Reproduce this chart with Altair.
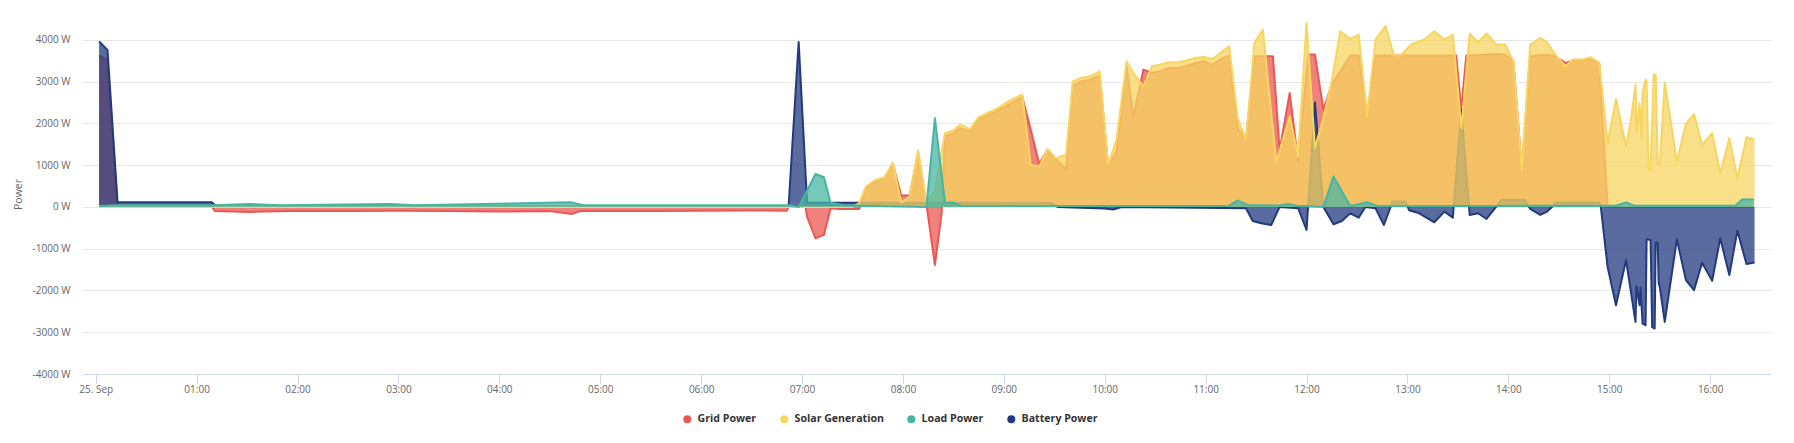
import altair as alt
import pandas as pd

series_names = ["Grid Power", "Solar Generation", "Load Power", "Battery Power"]
series_colors = ["#eb5851", "#f7d560", "#48b5a3", "#233a7f"]

grid_times = ["00:02", "00:07", "00:13", "01:09", "01:11", "01:32", "02:00", "02:30", "03:00", "03:30",
              "04:00", "04:30", "04:43", "04:48", "05:30", "06:00", "06:30", "06:51", "06:52", "07:02",
              "07:03", "07:08", "07:13", "07:17", "07:22", "07:34", "07:38", "07:43", "07:49", "07:54",
              "07:59", "08:04", "08:09", "08:14", "08:19", "08:23", "08:25", "08:30", "08:34", "08:40",
              "08:45", "08:50", "08:55", "09:01", "09:05", "09:11", "09:16", "09:21", "09:26", "09:31",
              "09:37", "09:41", "09:46", "09:51", "09:57", "10:02", "10:07", "10:13", "10:17", "10:23",
              "10:28", "10:33", "10:38", "10:44", "10:49", "10:54", "10:59", "11:04", "11:10", "11:14",
              "11:19", "11:24", "11:29", "11:34", "11:40", "11:44", "11:50", "11:55", "12:01", "12:05",
              "12:10", "12:15", "12:20", "12:26", "12:31", "12:36", "12:41", "13:00", "13:29", "13:32",
              "13:35", "13:54", "13:58", "14:03", "14:08", "14:13", "14:19", "14:24", "14:28", "14:34",
              "14:38", "14:49", "14:54", "14:59", "16:26"]
grid_values = [3620, 3520, 0, 0, -100, -120, -90, -100, -90, -100,
               -110, -100, -170, -100, -100, -90, -85, -90, 0, 0,
               -230, -750, -670, -30, -50, -50, 450, 600, 690, 1030,
               272, 272, 1288, 60, -1390, -150, 1700, 1760, 1888, 1808,
               2088, 2184, 2288, 2408, 2504, 2632, 1848, 1032, 1368, 1144,
               904, 2904, 3008, 3048, 3144, 968, 1328, 3368, 2168, 3288,
               3208, 3248, 3328, 3328, 3384, 3448, 3488, 3408, 3568, 3624,
               1888, 1608, 3608, 3608, 3608, 1368, 2728, 1088, 3648, 3648,
               2328, 2928, 3248, 3624, 3624, 2168, 3624, 3624, 3624, 2328,
               3624, 3660, 3650, 3488, 888, 3608, 3640, 3640, 3600, 3448,
               3500, 3520, 3448, 10, 10]

solar_times = ["00:02", "07:30", "07:34", "07:38", "07:43", "07:49", "07:54", "07:59", "08:04", "08:09",
               "08:14", "08:19", "08:25", "08:30", "08:34", "08:40", "08:45", "08:50", "08:55", "09:01",
               "09:05", "09:11", "09:16", "09:21", "09:26", "09:31", "09:37", "09:41", "09:46", "09:51",
               "09:57", "10:02", "10:07", "10:13", "10:17", "10:23", "10:28", "10:33", "10:38", "10:44",
               "10:49", "10:54", "10:59", "11:04", "11:10", "11:14", "11:19", "11:24", "11:29", "11:34",
               "11:42", "11:50", "11:55", "12:00", "12:05", "12:10", "12:15", "12:20", "12:26", "12:31",
               "12:36", "12:41", "12:47", "12:52", "12:56", "13:02", "13:10", "13:16", "13:22", "13:27",
               "13:32", "13:37", "13:42", "13:47", "13:53", "13:58", "14:03", "14:08", "14:13", "14:19",
               "14:23", "14:28", "14:34", "14:38", "14:44", "14:49", "14:54", "14:59", "15:04", "15:10",
               "15:13:12", "15:15:36", "15:16:12", "15:18:00", "15:19:12", "15:19:48", "15:21:36", "15:22:12",
               "15:23:24", "15:24:36", "15:26:24", "15:27:36", "15:28:48", "15:30:00", "15:33:00", "15:40:12",
               "15:45:36", "15:50:24", "15:55:12", "16:01:12", "16:06:00", "16:11:24", "16:16:12", "16:21:36",
               "16:26:24"]
solar_values = [0, 0, 90, 488, 632, 712, 1064, 104, 248, 1352,
                128, 392, 1768, 1832, 1968, 1864, 2152, 2248, 2328, 2488,
                2584, 2688, 1008, 968, 1384, 1168, 1248, 3008, 3088, 3128,
                3248, 1008, 1608, 3488, 3208, 2888, 3368, 3408, 3464, 3464,
                3512, 3568, 3592, 3544, 3728, 3848, 2128, 1608, 3928, 4248,
                1080, 2168, 1208, 4408, 1408, 2128, 3008, 4208, 4024, 4128,
                2168, 4008, 4328, 3624, 3624, 3888, 4008, 4208, 4008, 4128,
                1888, 4152, 3944, 4152, 3888, 3888, 3488, 888, 3888, 4040,
                3944, 3648, 3368, 3528, 3528, 3584, 3464, 1528, 2584, 1448,
                2168, 2928, 1768, 2488, 1648, 2728, 3048, 3008,
                888, 888, 3168, 3168, 1048, 1008, 2984, 1088,
                1992, 2224, 1488, 1768, 808, 1648, 688, 1672,
                1608]

load_times = ["00:02", "00:13", "01:09", "01:32", "01:50", "02:55", "03:10", "04:43", "04:50", "06:00",
              "06:52", "06:58", "07:08", "07:13", "07:17", "07:25", "08:14", "08:19", "08:25", "08:30",
              "08:35", "09:30", "11:14", "11:19", "11:25", "11:44", "11:49", "11:54", "12:10", "12:16",
              "12:26", "12:36", "12:42", "13:50", "15:04", "15:10", "15:15", "16:15", "16:19", "16:26"]
load_values = [20, 40, 40, 70, 40, 70, 40, 110, 40, 40,
               40, 0, 790, 710, 100, 40, 0, 2125, 104, 100,
               30, 20, 30, 152, 48, 32, 72, 30, 0, 730,
               20, 112, 25, 25, 30, 110, 30, 30, 180, 180]

battery_times = ["00:02", "00:07", "00:13", "01:09", "01:12", "06:52", "06:58", "07:03", "09:28", "09:32",
                 "10:00", "10:05", "10:10", "11:24", "11:28", "11:33", "11:39", "11:44", "11:55", "12:00",
                 "12:05", "12:10", "12:16", "12:21", "12:26", "12:31", "12:35", "12:41", "12:46", "12:50",
                 "12:51", "12:59", "13:01", "13:07", "13:16", "13:22", "13:27", "13:32", "13:37", "13:42",
                 "13:47", "13:52", "13:56", "14:10", "14:13", "14:19", "14:23", "14:26", "14:28", "14:54",
                 "14:55", "14:59", "15:04", "15:10", "15:15:36", "15:16:12", "15:18:00", "15:18:36", "15:19:48", "15:21:36",
                 "15:22:12", "15:24:36", "15:25:30", "15:27:00", "15:27:36", "15:28:48", "15:29:24", "15:30:00", "15:33:00", "15:40:12",
                 "15:45:36", "15:50:24", "15:55:12", "16:01:12", "16:06:00", "16:11:24", "16:16:12", "16:21:36", "16:26:24"]
battery_values = [3960, 3760, 110, 110, 10, 10, 3950, 104, 100, 0,
                  -40, -60, 0, -32, -336, -392, -432, 0, -30, -552,
                  2500, 0, -416, -336, -152, -256, 0, -32, -432, 0,
                  128, 128, -80, -152, -368, -112, -256, 2330, -192, -152,
                  -288, -32, 168, 168, -48, -190, -110, 0, 104, 104,
                  0, -1432, -2352, -1272, -2752, -1896, -2352, -1928, -2792, -2832,
                  -776, -792, -2880, -2912, -856, -856, -1832, -1900, -2752, -776,
                  -1752, -1992, -1336, -1768, -752, -1632, -568, -1368, -1328]

tick_hours = list(range(0, 17))
y_ticks = list(range(-4000, 4001, 1000))


def to_hours(t):
    parts = [float(p) for p in t.split(":")]
    while len(parts) < 3:
        parts.append(0.0)
    return parts[0] + parts[1] / 60 + parts[2] / 3600


sources = {
    "Grid Power": (grid_times, grid_values),
    "Solar Generation": (solar_times, solar_values),
    "Load Power": (load_times, load_values),
    "Battery Power": (battery_times, battery_values),
}
frames = []
for name, (times, vals) in sources.items():
    frames.append(pd.DataFrame({"h": [to_hours(t) for t in times], "value": vals, "series": name}))
df = pd.concat(frames, ignore_index=True)

FONT = "Open Sans"

x_enc = alt.X(
    "h:Q",
    scale=alt.Scale(domain=[-0.126, 16.603], nice=False, zero=False),
    axis=alt.Axis(
        values=tick_hours,
        labelExpr="datum.value == 0 ? '25. Sep' : (datum.value < 10 ? '0' : '') + datum.value + ':00'",
        grid=False,
        domainColor="#ccd6eb",
        domainWidth=1,
        tickColor="#ccd6eb",
        tickSize=9,
        tickWidth=1,
        labelColor="#666666",
        labelFont=FONT,
        labelFontSize=10,
        labelPadding=1,
        labelFlush=False,
        labelOverlap=False,
        title=None,
    ),
)
y_enc = alt.Y(
    "value:Q",
    scale=alt.Scale(domain=[-4000, 4500], nice=False, zero=False),
    axis=alt.Axis(
        values=y_ticks,
        labelExpr="datum.value + ' W'",
        grid=True,
        gridColor="#e6e6e6",
        gridWidth=1,
        domain=False,
        ticks=False,
        tickSize=0,
        labelPadding=13,
        labelColor="#666666",
        labelFont=FONT,
        labelFontSize=10,
        title="Power",
        titleColor="#666666",
        titleFont=FONT,
        titleFontSize=10.5,
        titleFontWeight="normal",
        titleX=-65,
        titleY=175,
        titleAngle=270,
        titleAlign="center",
        titleBaseline="middle",
    ),
)
color_enc = alt.Color(
    "series:N",
    scale=alt.Scale(domain=series_names, range=series_colors),
    legend=alt.Legend(
        orient="none",
        legendX=599,
        legendY=395,
        direction="horizontal",
        title=None,
        symbolType="circle",
        symbolSize=64,
        symbolOpacity=1,
        symbolStrokeWidth=0,
        labelFont=FONT,
        labelFontSize=10.6,
        labelFontWeight="bold",
        labelColor="#333333",
        labelOffset=5,
        columnPadding=22,
    ),
)


def layer(name):
    return (
        alt.Chart(df)
        .transform_filter(alt.datum.series == name)
        .mark_area(
            fillOpacity=0.75,
            interpolate="linear",
            clip=True,
            line=alt.OverlayMarkDef(strokeWidth=2, strokeJoin="round"),
        )
        .encode(x=x_enc, y=y_enc, color=color_enc)
    )


chart = (
    alt.layer(layer("Grid Power"), layer("Battery Power"), layer("Solar Generation"), layer("Load Power"))
    .properties(
        width=1688,
        height=355,
        autosize=alt.AutoSizeParams(type="none"),
        padding={"left": 75, "top": 11, "right": 15, "bottom": 61},
        background="white",
    )
    .configure_view(stroke=None)
)

chart.save("out.html", embed_options={"renderer": "svg", "actions": False})
